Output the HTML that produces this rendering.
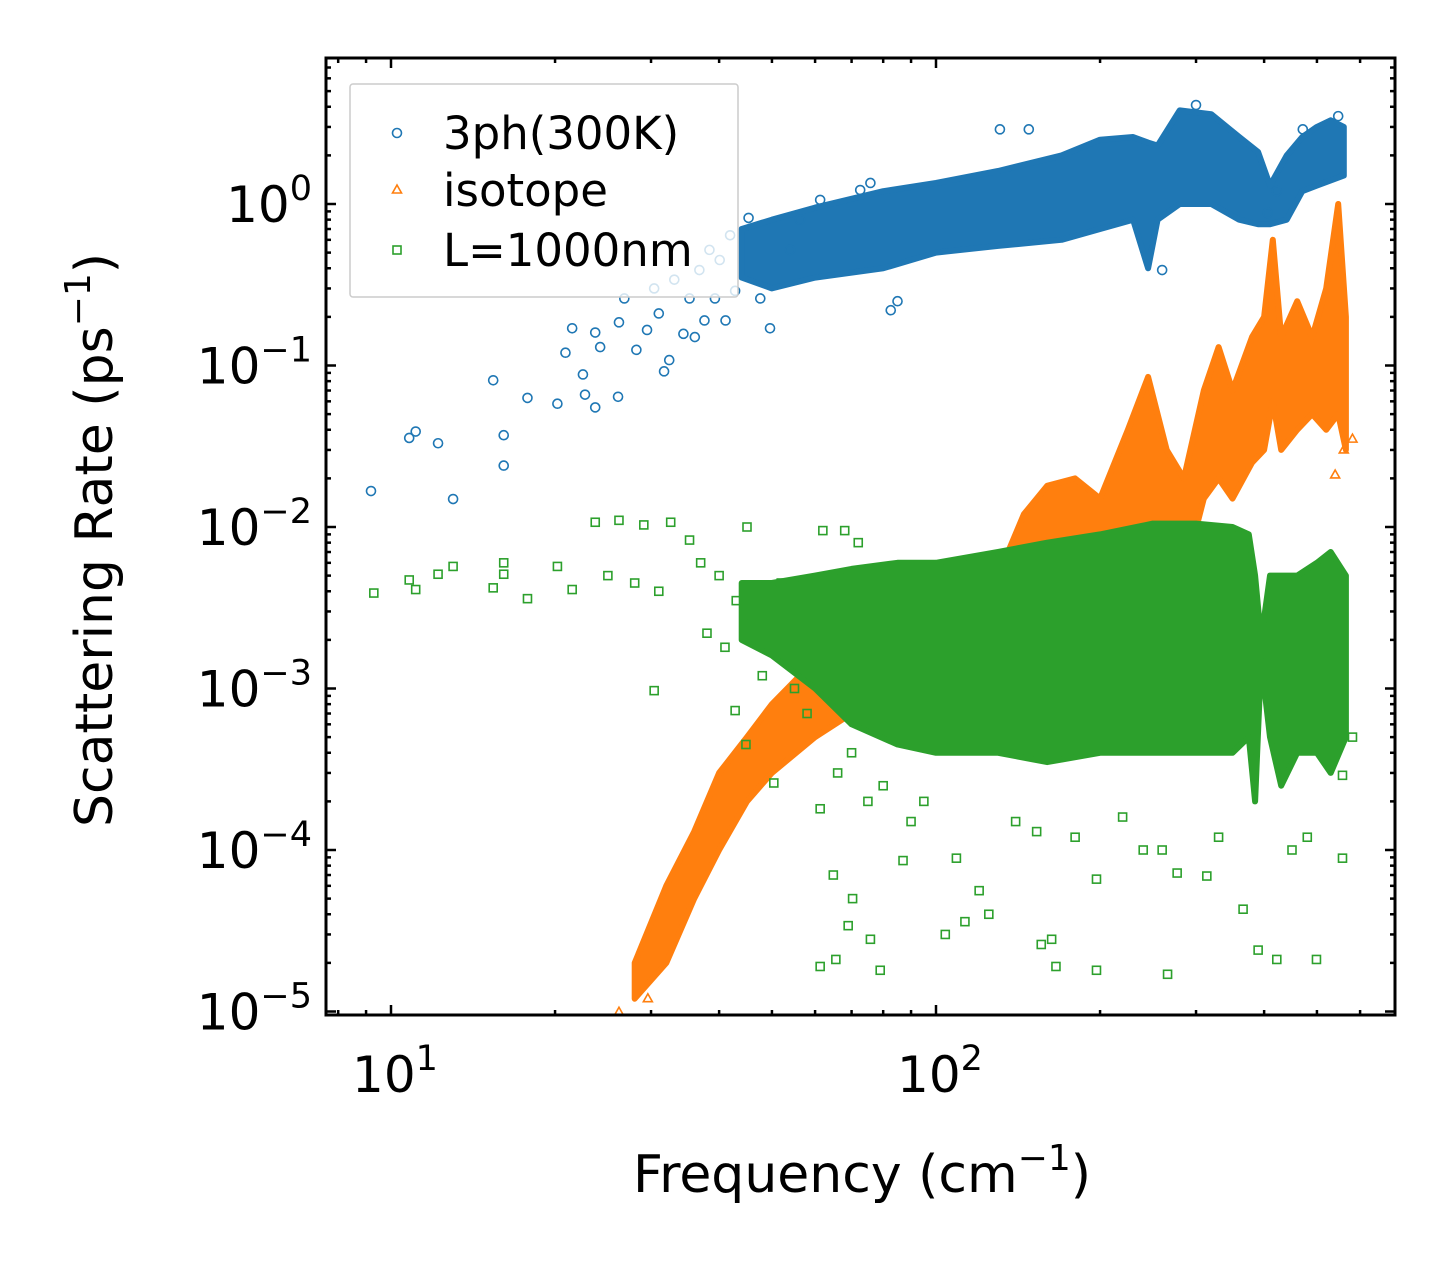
<!DOCTYPE html>
<html><head><meta charset="utf-8"><style>
html,body{margin:0;padding:0;background:#fff;}
svg{display:block;font-family:"DejaVu Sans","Liberation Sans",sans-serif;}
</style></head><body>
<svg id="chart" width="1455" height="1265" viewBox="0 0 1455 1265" xmlns="http://www.w3.org/2000/svg">
<rect width="1455" height="1265" fill="#fff"/>
<g id="bands"></g>
<g id="pts"></g>
<g id="axes"></g>
<text x="862" y="1192" font-size="52" text-anchor="middle">Frequency (cm<tspan dy="-22" font-size="36">−1</tspan><tspan dy="22">)</tspan></text>
</svg>
<script>
// ---- data ----
const blueFreq=[9.19,10.8,11.1,12.2,13.0,15.4,16.1,16.1,17.8,20.2,20.9,21.5,22.5,22.7,23.7,23.7,24.2,26.1,26.2,26.8,28.2,29.5,30.4,31.0,31.7,32.4,33.1,34.4,35.3,36.1,36.8,37.6,38.4,39.3,40.1,41.1,41.9,42.8,45.3,47.6,49.6,54.0,56.3,61.3,72.6,75.8,82.6,85.0,131,148,260,300,406,422,471,547];
const blueVal=[0.0167,0.0356,0.039,0.033,0.0149,0.081,0.037,0.024,0.063,0.058,0.12,0.17,0.088,0.066,0.055,0.16,0.13,0.064,0.185,0.26,0.125,0.166,0.30,0.21,0.092,0.108,0.34,0.157,0.26,0.15,0.39,0.19,0.52,0.26,0.45,0.19,0.64,0.29,0.82,0.26,0.17,0.52,0.8,1.06,1.22,1.35,0.22,0.25,2.9,2.9,0.39,4.1,0.88,1.2,2.9,3.5];
const blueBandF=[44,50,60,80,100,130,170,200,230,245,255,280,320,360,390,410,440,470,500,530,560];
const blueBandLo=[0.35,0.3,0.35,0.4,0.5,0.55,0.6,0.7,0.8,0.4,0.8,1.0,1.0,0.8,0.75,0.75,0.8,1.2,1.3,1.4,1.5];
const blueBandHi=[0.7,0.8,0.95,1.2,1.35,1.6,2.0,2.5,2.6,2.4,2.3,3.8,3.6,2.6,2.1,1.3,2.0,2.6,3.0,3.3,3.0];

const orangeFreq=[26.2,29.6,581,540,560];
const orangeVal=[9.9e-6,1.2e-5,0.035,0.021,0.03];
const orangeBandF=[28,32,36,40,45,50,60,70,90,110,130,145,160,180,200,225,245,265,285,310,330,350,380,400,415,430,460,490,520,547,565];
const orangeBandLo=[1.2e-5,2e-5,5e-5,1e-4,2e-4,3e-4,5e-4,7e-4,9e-4,1e-3,1.2e-3,2e-3,2.5e-3,3e-3,3e-3,6e-3,1e-2,6e-3,5e-3,1.5e-2,2e-2,1.5e-2,2.5e-2,3e-2,6e-2,3e-2,4e-2,5e-2,4e-2,5e-2,3e-2];
const orangeBandHi=[2e-5,6e-5,1.3e-4,3e-4,5e-4,8e-4,1.5e-3,2e-3,2.5e-3,3e-3,5e-3,1.2e-2,1.8e-2,2e-2,1.5e-2,4e-2,8.5e-2,3e-2,2e-2,7e-2,1.3e-1,7e-2,1.5e-1,2e-1,6e-1,1.5e-1,2.5e-1,1.5e-1,3e-1,1.0,2e-1];

const greenFreq=[9.3,10.8,11.1,12.2,13.0,15.4,16.1,16.1,17.8,20.2,21.5,23.7,26.2,29.1,32.6,35.3,45,30.4,42.8,44.8,50.4,61.3,64.8,65.5,61.3,70.3,69,75.8,79,87,109,104,113,120,125,153,163,156,166,197,197,266,240,277,314,366,390,422,499,557,557,581,25,28,31,37,40,38,41,43,46,48,52,55,58,62,66,70,75,80,90,95,140,180,220,260,330,450,480,52,60,68,72];
const greenVal=[0.0039,0.0047,0.0041,0.0051,0.0057,0.0042,0.006,0.0051,0.0036,0.0057,0.0041,0.0107,0.011,0.0103,0.0107,0.0083,0.01,0.00097,0.00073,0.00045,0.00026,0.00018,7e-5,2.1e-5,1.9e-5,5e-5,3.4e-5,2.8e-5,1.8e-5,8.6e-5,8.9e-5,3e-5,3.6e-5,5.6e-5,4e-5,1.3e-4,2.8e-5,2.6e-5,1.9e-5,1.8e-5,6.6e-5,1.7e-5,1e-4,7.2e-5,6.9e-5,4.3e-5,2.4e-5,2.1e-5,2.1e-5,2.9e-4,8.9e-5,5e-4,0.005,0.0045,0.004,0.006,0.005,0.0022,0.0018,0.0035,0.0025,0.0012,0.0045,0.001,0.0007,0.0095,0.0003,0.0004,0.0002,0.00025,0.00015,0.0002,0.00015,0.00012,0.00016,0.0001,0.00012,0.0001,0.00012,0.004,0.0036,0.0095,0.008];
const greenBandF=[44,50,60,70,85,100,130,160,200,250,300,350,375,385,395,410,430,460,500,530,565];
const greenBandLo=[2e-3,1.6e-3,1e-3,6e-4,4.5e-4,4e-4,4e-4,3.5e-4,4e-4,4e-4,4e-4,4e-4,5e-4,2e-4,1.5e-3,5e-4,2.5e-4,4e-4,4e-4,3e-4,5e-4];
const greenBandHi=[4.5e-3,4.5e-3,5e-3,5.5e-3,6e-3,6e-3,7e-3,8e-3,9e-3,1.05e-2,1.05e-2,1e-2,9e-3,5e-3,2e-3,5e-3,5e-3,5e-3,6e-3,7e-3,5e-3];

const xTickVals=[10,100];
const xTickLabels=["1","2"];
const yTickVals=[1,0.1,0.01,0.001,0.0001,0.00001];
const yTickLabels=["0","\u22121","\u22122","\u22123","\u22124","\u22125"];

// ---- axes functions ----
const L=326,R=1395,T=58,B=1015;
function px(f){return 391+545*(Math.log10(f)-1);}
function py(v){return 204-161.5*Math.log10(v);}
const NS="http://www.w3.org/2000/svg";
function mk(tag,attrs,parent){const e=document.createElementNS(NS,tag);for(const k in attrs)e.setAttribute(k,attrs[k]);parent.appendChild(e);return e;}
const svg=document.getElementById('chart');
const bands=document.getElementById('bands'),pts=document.getElementById('pts'),axes=document.getElementById('axes');
const defs=mk('defs',{},svg);
const cp=mk('clipPath',{id:'clip'},defs);
mk('rect',{x:L,y:T,width:R-L,height:B-T},cp);
bands.setAttribute('clip-path','url(#clip)');
pts.setAttribute('clip-path','url(#clip)');

function band(F,lo,hi,color,name){
  let d='';
  F.forEach((f,i)=>{d+=(i?'L':'M')+px(f).toFixed(1)+','+py(hi[i]).toFixed(1);});
  for(let i=F.length-1;i>=0;i--)d+='L'+px(F[i]).toFixed(1)+','+py(lo[i]).toFixed(1);
  d+='Z';
  const p=mk('path',{d:d,fill:color,stroke:color,'stroke-width':6,'stroke-linejoin':'round'},bands);
  
  
}
function circ(x,y,c,g){return mk('circle',{cx:x,cy:y,r:4.5,fill:'none',stroke:c,'stroke-width':1.6},g);}
function tri(x,y,c,g){return mk('path',{d:`M${x},${y-5}L${x+4.5},${y+3}L${x-4.5},${y+3}Z`,fill:'none',stroke:c,'stroke-width':1.6},g);}
function sq(x,y,c,g){return mk('rect',{x:x-4,y:y-4,width:8,height:8,fill:'none',stroke:c,'stroke-width':1.6},g);}

const C1='#1f77b4',C2='#ff7f0e',C3='#2ca02c';
const gB=mk('g',{},pts),gO=mk('g',{},pts),gG=mk('g',{},pts);
band(blueBandF,blueBandLo,blueBandHi,C1,'3ph-dense-band');
blueFreq.forEach((f,i)=>{const e=circ(px(f),py(blueVal[i]),C1,gB);

});
band(orangeBandF,orangeBandLo,orangeBandHi,C2,'isotope-dense-band');
orangeFreq.forEach((f,i)=>{const e=tri(px(f),py(orangeVal[i]),C2,gO);

});
band(greenBandF,greenBandLo,greenBandHi,C3,'boundary-dense-band');
greenFreq.forEach((f,i)=>{const e=sq(px(f),py(greenVal[i]),C3,gG);

});

const fr=mk('rect',{x:L,y:T,width:R-L,height:B-T,fill:'none',stroke:'#000','stroke-width':3},axes);


for(let d=0;d<3;d++){for(let m=1;m<10;m++){const f=m*Math.pow(10,d);const x=px(f);if(x<L||x>R)continue;const len=m===1?10:5;
mk('line',{x1:x,y1:B,x2:x,y2:B-len,stroke:'#000','stroke-width':2.5},axes);
mk('line',{x1:x,y1:T,x2:x,y2:T+len,stroke:'#000','stroke-width':2.5},axes);}}
for(let d=-5;d<1;d++){for(let m=1;m<10;m++){const v=m*Math.pow(10,d);const y=py(v);if(y<T||y>B)continue;const len=m===1?10:5;
mk('line',{x1:L,y1:y,x2:L+len,y2:y,stroke:'#000','stroke-width':2.5},axes);
mk('line',{x1:R,y1:y,x2:R-len,y2:y,stroke:'#000','stroke-width':2.5},axes);}}
xTickVals.forEach((v,i)=>{const t=mk('text',{x:px(v)+4,y:1092,'font-size':50,'text-anchor':'middle'},axes);


t.textContent='10';const s=mk('tspan',{dy:-22,'font-size':35},t);s.textContent=xTickLabels[i];});
yTickVals.forEach((v,i)=>{const t=mk('text',{x:312,y:py(v)+18,'font-size':50,'text-anchor':'end'},axes);


t.textContent='10';const s=mk('tspan',{dy:-22,'font-size':35},t);s.textContent=yTickLabels[i];});

const yt=mk('text',{x:0,y:0,'font-size':52,'text-anchor':'middle',transform:'translate(112,540) rotate(-90)'},svg);


yt.textContent='Scattering Rate (ps';
const ys=mk('tspan',{dy:-22,'font-size':36},yt);ys.textContent='\u22121';
const ys2=mk('tspan',{dy:22},yt);ys2.textContent=')';
const lg=mk('g',{},svg);


mk('rect',{x:350,y:84,width:388,height:213,fill:'#fff','fill-opacity':0.8,stroke:'#ccc','stroke-width':1.5,rx:3},lg);
const entries=[['3ph(300K)',C1,circ,133],['isotope',C2,tri,190],['L=1000nm',C3,sq,250]];
entries.forEach(e=>{e[2](397,e[3],e[1],lg);
const t=mk('text',{x:443,y:e[3]+16,'font-size':45},lg);t.textContent=e[0];

});
</script>
</body></html>
